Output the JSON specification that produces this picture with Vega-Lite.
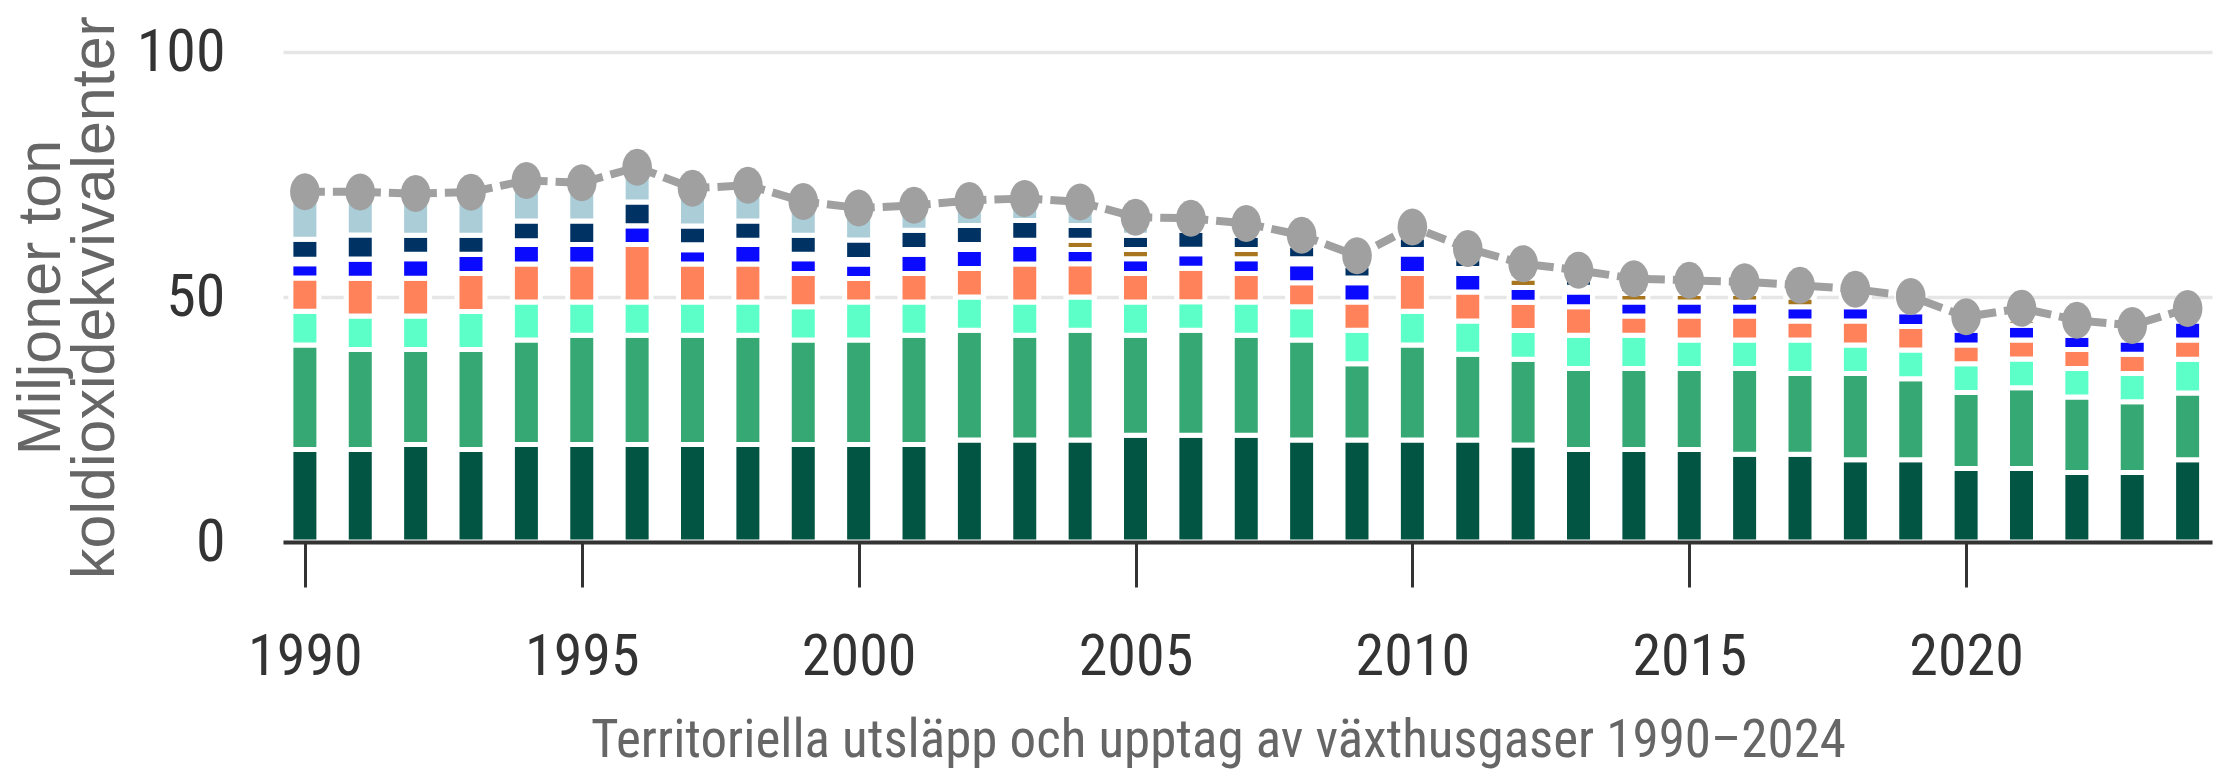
{
  "$schema": "https://vega.github.io/schema/vega-lite/v6.json",
  "width": 1929,
  "height": 490,
  "autosize": "none",
  "padding": {"left": 283, "top": 52, "right": 5, "bottom": 230},
  "background": "white",
  "config": {"view": {"stroke": null}},
  "data": {"values": [
    {"year":1990,"s1":18.9,"s2":21.3,"s3":6.9,"s4":6.8,"s5":2.9,"s6":0.9,"s7":4.1,"s8":9.7},
    {"year":1991,"s1":18.9,"s2":20.4,"s3":6.8,"s4":7.75,"s5":3.9,"s6":0,"s7":4.9,"s8":8.8},
    {"year":1992,"s1":19.9,"s2":19.4,"s3":6.8,"s4":7.75,"s5":3.95,"s6":0.9,"s7":3.9,"s8":8.5},
    {"year":1993,"s1":18.9,"s2":20.4,"s3":7.75,"s4":7.75,"s5":3.9,"s6":0,"s7":3.9,"s8":8.8},
    {"year":1994,"s1":19.9,"s2":21.3,"s3":7.8,"s4":7.75,"s5":3.95,"s6":0.8,"s7":4.0,"s8":8.3},
    {"year":1995,"s1":19.9,"s2":22.3,"s3":6.8,"s4":7.75,"s5":3.95,"s6":0,"s7":4.8,"s8":7.8},
    {"year":1996,"s1":19.9,"s2":22.3,"s3":6.8,"s4":11.7,"s5":3.85,"s6":0,"s7":4.85,"s8":7.1},
    {"year":1997,"s1":19.9,"s2":22.3,"s3":6.8,"s4":7.75,"s5":2.9,"s6":1.0,"s7":3.85,"s8":7.7},
    {"year":1998,"s1":19.9,"s2":22.3,"s3":6.8,"s4":7.75,"s5":3.95,"s6":0.9,"s7":3.9,"s8":7.3},
    {"year":1999,"s1":19.9,"s2":21.3,"s3":6.8,"s4":6.8,"s5":3.0,"s6":0.9,"s7":3.9,"s8":6.9},
    {"year":2000,"s1":19.9,"s2":21.3,"s3":7.8,"s4":4.8,"s5":2.95,"s6":0.9,"s7":4.0,"s8":6.5},
    {"year":2001,"s1":19.9,"s2":22.3,"s3":6.8,"s4":5.8,"s5":3.9,"s6":1.0,"s7":3.9,"s8":5.1},
    {"year":2002,"s1":20.8,"s2":22.4,"s3":6.8,"s4":5.8,"s5":3.9,"s6":1.0,"s7":3.9,"s8":5.1},
    {"year":2003,"s1":20.8,"s2":21.4,"s3":6.8,"s4":7.75,"s5":3.95,"s6":0.9,"s7":4.0,"s8":4.5},
    {"year":2004,"s1":20.8,"s2":22.4,"s3":6.8,"s4":6.8,"s5":2.9,"s6":1.9,"s7":3.0,"s8":4.8},
    {"year":2005,"s1":21.8,"s2":20.4,"s3":6.8,"s4":5.8,"s5":3.0,"s6":1.9,"s7":2.9,"s8":3.7},
    {"year":2006,"s1":21.8,"s2":21.4,"s3":5.85,"s4":6.8,"s5":3.0,"s6":0.9,"s7":3.85,"s8":2.45},
    {"year":2007,"s1":21.8,"s2":20.4,"s3":6.8,"s4":5.8,"s5":3.0,"s6":1.9,"s7":2.9,"s8":2.4},
    {"year":2008,"s1":20.8,"s2":20.4,"s3":6.8,"s4":4.9,"s5":3.9,"s6":1.0,"s7":2.75,"s8":2.05},
    {"year":2009,"s1":20.8,"s2":15.6,"s3":6.8,"s4":5.8,"s5":3.9,"s6":1.0,"s7":2.6,"s8":1.9},
    {"year":2010,"s1":20.8,"s2":19.4,"s3":6.9,"s4":7.7,"s5":4.0,"s6":0.9,"s7":2.6,"s8":2.0},
    {"year":2011,"s1":20.8,"s2":17.5,"s3":6.8,"s4":5.9,"s5":3.8,"s6":1.0,"s7":2.4,"s8":1.7},
    {"year":2012,"s1":19.8,"s2":17.5,"s3":5.85,"s4":5.8,"s5":3.0,"s6":1.95,"s7":1.6,"s8":1.3},
    {"year":2013,"s1":18.9,"s2":16.5,"s3":6.8,"s4":5.8,"s5":3.0,"s6":1.0,"s7":2.3,"s8":1.15},
    {"year":2014,"s1":18.9,"s2":16.5,"s3":6.8,"s4":3.9,"s5":2.9,"s6":1.7,"s7":1.8,"s8":1.25},
    {"year":2015,"s1":18.9,"s2":16.5,"s3":5.8,"s4":4.9,"s5":2.9,"s6":1.7,"s7":1.6,"s8":1.1},
    {"year":2016,"s1":17.9,"s2":17.5,"s3":5.8,"s4":4.9,"s5":2.9,"s6":1.7,"s7":1.4,"s8":1.0},
    {"year":2017,"s1":17.9,"s2":16.5,"s3":6.8,"s4":3.9,"s5":2.9,"s6":2.0,"s7":1.4,"s8":1.0},
    {"year":2018,"s1":16.8,"s2":17.6,"s3":5.8,"s4":4.9,"s5":2.9,"s6":1.0,"s7":1.6,"s8":1.0},
    {"year":2019,"s1":16.8,"s2":16.5,"s3":5.9,"s4":4.8,"s5":3.0,"s6":1.0,"s7":1.3,"s8":0.8},
    {"year":2020,"s1":15.0,"s2":15.5,"s3":5.9,"s4":3.8,"s5":3.0,"s6":0.9,"s7":1.1,"s8":0.75},
    {"year":2021,"s1":15.0,"s2":16.5,"s3":5.85,"s4":3.9,"s5":3.0,"s6":1.2,"s7":1.3,"s8":0.95},
    {"year":2022,"s1":14.2,"s2":15.4,"s3":5.8,"s4":3.9,"s5":2.9,"s6":1.0,"s7":1.2,"s8":0.85},
    {"year":2023,"s1":14.2,"s2":14.4,"s3":5.8,"s4":3.9,"s5":2.9,"s6":1.0,"s7":1.2,"s8":0.8},
    {"year":2024,"s1":16.8,"s2":13.6,"s3":6.9,"s4":3.9,"s5":3.9,"s6":0.9,"s7":1.0,"s8":0.65}
  ]},
  "transform": [{"fold": ["s1","s2","s3","s4","s5","s6","s7","s8"], "as": ["sector","value"]}],
  "encoding": {
    "x": {
      "field": "year", "type": "quantitative",
      "scale": {"domain": [1989.695, 2024.35], "nice": false, "zero": false},
      "axis": {
        "values": [1990,1995,2000,2005,2010,2015,2020],
        "format": "d",
        "grid": false,
        "domainColor": "#333333", "domainWidth": 4,
        "tickColor": "#333333", "tickWidth": 3, "tickSize": 45,
        "labelFont": "Roboto Condensed, Liberation Sans",
        "labelFontWeight": "normal",
        "labelFontSize": 58, "labelColor": "#333333", "labelPadding": 41,
        "labelFlush": false, "labelOverlap": false,
        "title": "Territoriella utsläpp och upptag av växthusgaser 1990–2024",
        "titleFont": "Roboto Condensed, Liberation Sans",
        "titleFontSize": 53, "titleFontWeight": "normal", "titleColor": "#666666",
        "titleX": 935, "titleY": 214, "titleAlign": "center", "titleBaseline": "alphabetic",
        "zindex": 1
      }
    }
  },
  "layer": [
    {
      "mark": {"type": "bar", "width": 28, "stroke": "white", "strokeWidth": 5},
      "encoding": {
        "y": {
          "field": "value", "type": "quantitative", "stack": "zero",
          "scale": {"domain": [0, 100], "nice": false},
          "axis": {
            "values": [0, 50, 100],
            "grid": true, "gridColor": "#e6e6e6", "gridWidth": 3.5,
            "domain": false, "ticks": false, "tickSize": 0,
            "labelFont": "Roboto Condensed, Liberation Sans",
            "labelFontWeight": "normal",
            "labelFontSize": 60, "labelColor": "#333333", "labelPadding": 58,
            "title": ["Miljoner ton", "koldioxidekvivalenter"],
            "titleFont": "Liberation Sans",
            "titleFontSize": 61, "titleFontWeight": "normal", "titleColor": "#666666",
            "titleLineHeight": 54,
            "titleX": -224, "titleY": 245, "titleAngle": 270,
            "titleAlign": "center", "titleBaseline": "alphabetic"
          }
        },
        "color": {
          "field": "sector", "type": "nominal",
          "scale": {
            "domain": ["s1","s2","s3","s4","s5","s6","s7","s8"],
            "range": ["#035543","#36A874","#5CFFC8","#FF825A","#0A0AFF","#A8761E","#003264","#AACDD8"]
          },
          "legend": null
        },
        "order": {"field": "sector", "type": "ordinal", "sort": "ascending"}
      }
    },
    {
      "transform": [{"aggregate": [{"op": "sum", "field": "value", "as": "total"}], "groupby": ["year"]}],
      "mark": {"type": "line", "color": "#a0a0a0", "strokeWidth": 8, "strokeDash": [20, 8]},
      "encoding": {
        "y": {"field": "total", "type": "quantitative"}
      }
    },
    {
      "transform": [{"aggregate": [{"op": "sum", "field": "value", "as": "total"}], "groupby": ["year"]}],
      "mark": {"type": "point", "filled": true, "opacity": 1, "color": "#a0a0a0", "size": 1369,
               "shape": "M0,-1A0.8,1,0,1,1,0,1A0.8,1,0,1,1,0,-1Z"},
      "encoding": {
        "y": {"field": "total", "type": "quantitative"}
      }
    }
  ]
}
